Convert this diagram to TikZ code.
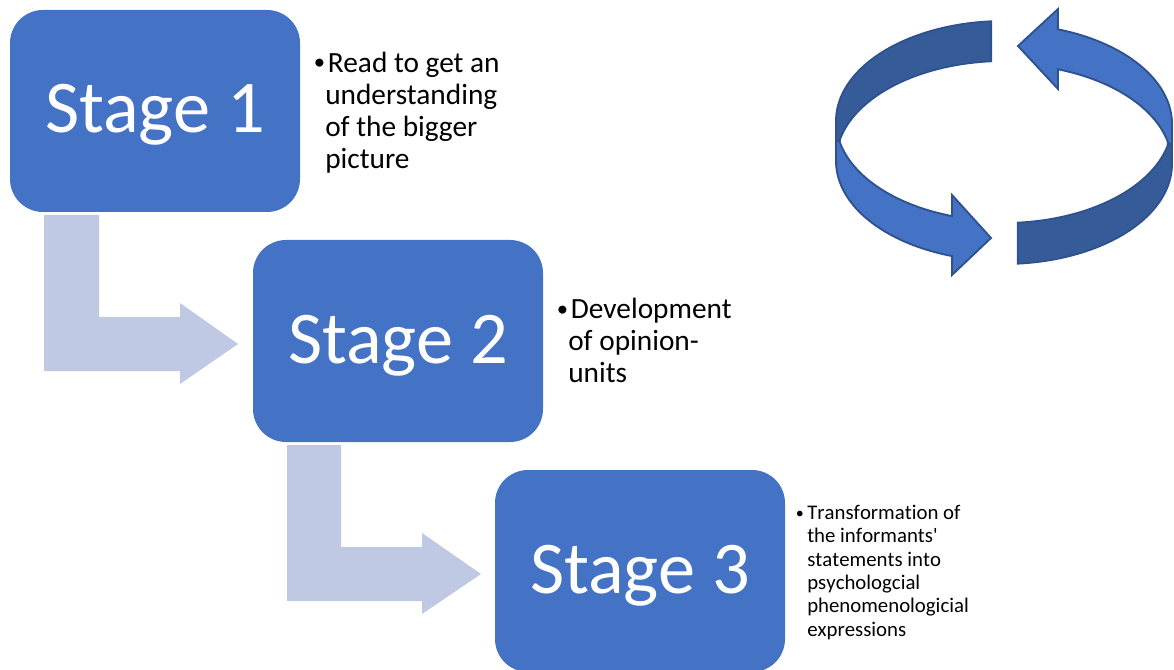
\documentclass[tikz,border=0pt]{standalone}
\usepackage{fontspec}
\setmainfont{Carlito}[Ligatures=NoCommon]
\newfontfamily\notefont{Carlito}[RawFeature={-liga;-clig;-calt;-dlig}]
\newfontfamily\notefontnk{Carlito}[RawFeature={-liga;-clig;-calt;-dlig;-kern}]
\definecolor{stageblue}{HTML}{4472C4}
\definecolor{lightarrow}{HTML}{BFC9E4}
\definecolor{ringdark}{HTML}{355C99}
\definecolor{ringedge}{HTML}{2F528F}
\newcommand{\stagetext}[1]{\raisebox{-16.5pt}[0pt][0pt]{#1}}
\newcommand{\bigdot}{\llap{\raisebox{1.6pt}{\fontsize{17pt}{17pt}\selectfont •}}\hspace{2pt}}
\newcommand{\smalldot}{\llap{\raisebox{1pt}{\fontsize{12pt}{12pt}\selectfont •}\hspace{2.5pt}}}
\tikzset{
  stagebox/.style={draw=none,fill=stageblue,rounded corners=24.75pt,minimum width=217.5pt,minimum height=151.5pt,inner sep=0pt,text=white,font=\fontsize{55.8pt}{60pt}\selectfont},
  bendarrow/.style={fill=lightarrow,draw=none},
  note/.style={anchor=north west,align=left,inner sep=0pt,text=black,font=\fontsize{22pt}{24pt}\selectfont\notefont},
  smallnote/.style={anchor=north west,align=left,inner sep=0pt,text=black,font=\fontsize{15.6pt}{17.5pt}\selectfont\notefontnk},
  ringlight/.style={fill=stageblue,draw=ringedge,line width=1.4pt,line join=miter},
  ringshade/.style={fill=ringdark,draw=ringedge,line width=1.4pt,line join=miter},
  ell/.style={samples=50,variable=\t}
}
\begin{document}
\begin{tikzpicture}[x=0.75pt,y=-0.75pt]
\useasboundingbox (0,0) rectangle (1174,670);
\clip (0,0) rectangle (1174,670);
% bent arrows
\fill[bendarrow] (44,215) -- (99,215) -- (99,317) -- (180,317) -- (180,303) -- (238,344) -- (180,384) -- (180,371) -- (44,371) -- cycle;
\fill[bendarrow] (287,445) -- (341,445) -- (341,547) -- (422,547) -- (422,533) -- (481,574) -- (422,614) -- (422,601) -- (287,601) -- cycle;
% stages
\node[stagebox] (s1) at (155,111) {\stagetext{Stage 1}};
\node[stagebox] (s2) at (398,341) {\stagetext{Stage 2}};
\node[stagebox] (s3) at (640,571) {\stagetext{Stage 3}};
% notes
\node[note] (n1) at (325,51.5) {\bigdot Read to get an\\understanding\\of the bigger\\picture};
\node[note] (n2) at (568,297.5) {\bigdot Development\\of opinion-\\units};
\node[smallnote] (n3) at (807,505) {\smalldot Transformation of\\the informants'\\statements into\\psychologcial\\phenomenologicial\\expressions};
% ring
\draw[ringshade] plot[ell,domain=265.6:180] ({1004+168*cos(\t)},{121+100*sin(\t)}) -- (836,141) -- (839.6,141) -- plot[ell,domain=191.8:265.6] ({1004+168*cos(\t)},{161+100*sin(\t)}) -- cycle;
\draw[ringshade] plot[ell,domain=85.3:0] ({1004+168*cos(\t)},{164+100*sin(\t)}) -- (1172,143.5) -- (1168.4,143.5) -- plot[ell,domain=11.8:85.3] ({1004+168*cos(\t)},{123+100*sin(\t)}) -- cycle;
\draw[ringlight] plot[ell,domain=-71.3:0] ({1004+168*cos(\t)},{124+100*sin(\t)}) -- (1172,143.5) -- (1168.4,143.5) -- plot[ell,domain=-11.8:-71.3] ({1004+168*cos(\t)},{164+100*sin(\t)}) -- (1058,89) -- (1018,46) -- (1058,9) -- cycle;
\draw[ringlight] plot[ell,domain=108:180] ({1004+168*cos(\t)},{161+100*sin(\t)}) -- (836,141) -- (839.6,141) -- plot[ell,domain=168.2:108] ({1004+168*cos(\t)},{121+100*sin(\t)}) -- (952,195) -- (991,238) -- (952,275) -- cycle;
\end{tikzpicture}
\end{document}
